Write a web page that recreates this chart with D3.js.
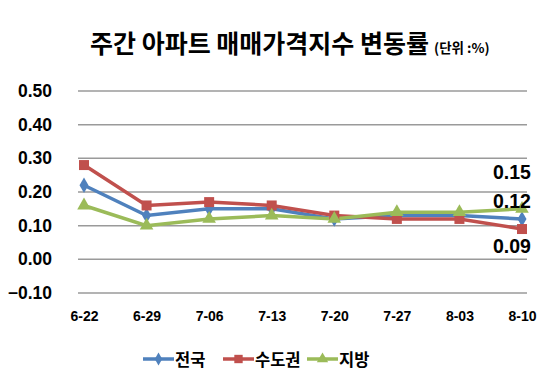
<!DOCTYPE html>
<html>
<head>
  <script src="https://d3js.org/d3.v7.min.js"></script>
  <style>
    body { margin: 0; background: #fff; }
    .grid line { stroke: #9a9a9a; stroke-width: 1.5; }
    .y-axis text { font-family: Arial, "Liberation Sans", sans-serif; font-weight: bold; font-size: 17.5px; }
    .x-axis text { font-family: Arial, "Liberation Sans", sans-serif; font-weight: bold; font-size: 14px; }
    .label { font-family: Arial, "Liberation Sans", sans-serif; font-weight: bold; font-size: 19.5px; }
  </style>
</head>
<body>
  <div id="chart"></div>
  <script>
    var weeks = ["6-22", "6-29", "7-06", "7-13", "7-20", "7-27", "8-03", "8-10"];
    var nationwide = [0.22, 0.13, 0.15, 0.15, 0.12, 0.13, 0.13, 0.12];
    var capital = [0.28, 0.16, 0.17, 0.16, 0.13, 0.12, 0.12, 0.09];
    var regional = [0.16, 0.10, 0.12, 0.13, 0.12, 0.14, 0.14, 0.15];
    var yTicks = [-0.1, 0, 0.1, 0.2, 0.3, 0.4, 0.5];

    var series = [
      { name: "전국", values: nationwide, color: "#4f81bd", marker: d3.symbolDiamond, size: 70 },
      { name: "수도권", values: capital, color: "#c0504d", marker: d3.symbolSquare, size: 100 },
      { name: "지방", values: regional, color: "#9bbb59", marker: d3.symbolTriangle, size: 80 }
    ];

    var W = 548, H = 387;
    var svg = d3.select("#chart").append("svg")
      .attr("width", W)
      .attr("height", H);

    var x = d3.scalePoint().domain(weeks).range([84, 522]);
    var y = d3.scaleLinear().domain([-0.1, 0.5]).range([293, 91]);

    // title
    var title = svg.append("text")
      .attr("x", 90)
      .attr("y", 53)
      .style("font-family", "'Noto Sans CJK KR', sans-serif")
      .style("font-weight", "bold");
    title.append("tspan")
      .style("font-size", "25px")
      .text("주간 아파트 매매가격지수 변동률");
    title.append("tspan")
      .attr("dx", 5)
      .style("font-size", "13.5px")
      .text("(단위 :%)");

    // gridlines
    svg.append("g")
      .attr("class", "grid")
      .selectAll("line")
      .data(yTicks)
      .enter()
      .append("line")
      .attr("x1", 78)
      .attr("x2", 527)
      .attr("y1", function(d) { return y(d); })
      .attr("y2", function(d) { return y(d); });

    var yAxis = svg.append("g")
      .attr("class", "y-axis")
      .attr("transform", "translate(55,0)")
      .call(d3.axisLeft(y).tickValues(yTicks).tickSize(0).tickFormat(d3.format(".2f")));
    yAxis.select(".domain").remove();

    var xAxis = svg.append("g")
      .attr("class", "x-axis")
      .attr("transform", "translate(0,308)")
      .call(d3.axisBottom(x).tickSize(0));
    xAxis.select(".domain").remove();

    var line = d3.line()
      .x(function(d, i) { return x(weeks[i]); })
      .y(function(d) { return y(d); });

    series.forEach(function(s) {
      svg.append("path")
        .datum(s.values)
        .attr("fill", "none")
        .attr("stroke", s.color)
        .attr("stroke-width", 3.5)
        .attr("d", line);
    });

    series.forEach(function(s) {
      svg.append("g")
        .selectAll("path")
        .data(s.values)
        .enter()
        .append("path")
        .attr("d", d3.symbol().type(s.marker).size(s.size))
        .attr("fill", s.color)
        .attr("transform", function(d, i) {
          return "translate(" + x(weeks[i]) + "," + y(d) + ")";
        });
    });

    // end labels
    var last = weeks.length - 1;
    var endLabels = [
      { v: regional[last], dy: -37 },
      { v: nationwide[last], dy: -18 },
      { v: capital[last], dy: 17 }
    ];
    svg.selectAll(".label")
      .data(endLabels)
      .enter()
      .append("text")
      .attr("class", "label")
      .attr("x", x(weeks[last]) - 10)
      .attr("y", function(d) { return y(d.v) + d.dy; })
      .attr("text-anchor", "middle")
      .attr("dominant-baseline", "central")
      .text(function(d) { return d.v.toFixed(2); });

    // legend
    var legendX = [143, 223, 307];
    var legend = svg.append("g");
    series.forEach(function(s, i) {
      var g = legend.append("g").attr("transform", "translate(" + legendX[i] + ",359)");
      g.append("line")
        .attr("x1", 0).attr("x2", 31)
        .attr("stroke", s.color)
        .attr("stroke-width", 3.5);
      g.append("path")
        .attr("d", d3.symbol().type(s.marker).size(s.size * 0.7))
        .attr("fill", s.color)
        .attr("transform", "translate(15.5,0)");
      g.append("text")
        .attr("x", 32)
        .attr("dominant-baseline", "central")
        .style("font-family", "'Noto Sans CJK KR', sans-serif")
        .style("font-size", "16.5px")
        .style("font-weight", "bold")
        .text(s.name);
    });
  </script>
</body>
</html>
